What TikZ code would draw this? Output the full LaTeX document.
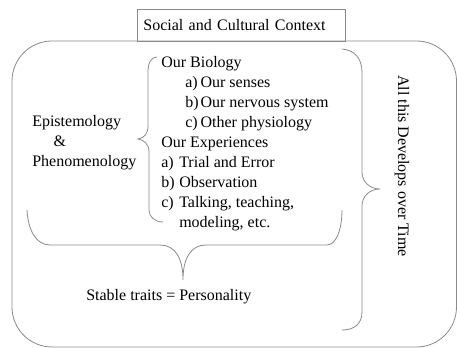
\documentclass[tikz,border=0pt]{standalone}
\usepackage{fontspec}
\setmainfont{Liberation Serif}
\usepackage{tikz}
\usetikzlibrary{positioning}
\definecolor{lineGray}{HTML}{8A8A8A}

\begin{document}
\begin{tikzpicture}[x=0.75pt,y=-0.75pt,
  txt/.style={font=\fontsize{12}{15}\selectfont,inner sep=0pt,align=left,text=black},
  ctxbox/.style={draw=lineGray,line width=0.6pt,font=\fontsize{12}{15}\selectfont,align=left,inner xsep=4.5pt,inner ysep=0pt,text width=147pt,minimum height=24pt},
  frame/.style={draw=lineGray,line width=0.6pt,rounded corners=30pt},
  bracket/.style={draw=lineGray,line width=0.6pt}
]
\useasboundingbox (0,0) rectangle (457,348);

% outer frame and top label
\draw[frame] (12,41) rectangle (456.5,347);
\node[ctxbox,anchor=north west] (context) at (137,9) {Social and Cultural Context};

% texts (base anchor = last line)
\node[txt,anchor=base west] (epist) at (32,167) {Epistemology\\\hspace*{16pt}\&\\Phenomenology};
\node[txt,anchor=base west] (factors) at (161,228) {Our Biology\\
\hspace*{18pt}\makebox[11.5pt][l]{a)}Our senses\\
\hspace*{18pt}\makebox[11.5pt][l]{b)}Our nervous system\\
\hspace*{18pt}\makebox[11.5pt][l]{c)}Other physiology\\
Our Experiences\\
\makebox[13.5pt][l]{a)}Trial and Error\\
\makebox[13.5pt][l]{b)}Observation\\
\makebox[13.5pt][l]{c)}Talking, teaching,\\
\hspace*{13.5pt}modeling, etc.};
\node[txt,anchor=base west] (stable) at (86,301) {Stable traits = Personality};
\node[txt,rotate=-90] (develop) at (402,166) {All this Develops over Time};

% braces
\draw[bracket] (157,57) .. controls (151,57) and (148,63) .. (148,72) -- (148,126)
  .. controls (148,134) and (144,138) .. (138,139)
  .. controls (144,140) and (149,144) .. (149,152) -- (149,210)
  .. controls (149,217) and (155,222) .. (163,222);
\draw[bracket] (342,49) .. controls (354,50) and (362,58) .. (362,72) -- (362,172)
  .. controls (362,182) and (370,189) .. (380,189)
  .. controls (370,189) and (362,196) .. (362,206) -- (362,312)
  .. controls (362,324) and (354,330) .. (342,330);
\draw[bracket] (27,210) .. controls (28,230) and (36,245) .. (50,245) -- (160,245)
  .. controls (175,245) and (183,258) .. (183,280)
  .. controls (183,258) and (191,245) .. (206,245) -- (327,245)
  .. controls (336,245) and (342,230) .. (342,210);
\end{tikzpicture}
\end{document}
